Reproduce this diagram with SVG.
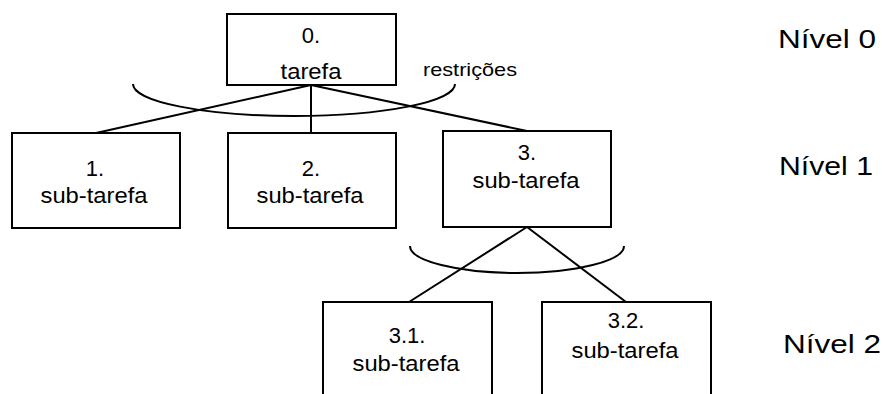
<svg xmlns="http://www.w3.org/2000/svg" width="883" height="394" viewBox="0 0 883 394">
  <style>
    .box { fill: #ffffff; stroke: #000000; stroke-width: 2; }
    .wire { fill: none; stroke: #000000; stroke-width: 2; }
    .lbl { font-family: "Liberation Sans", Arial, sans-serif; font-size: 22px; fill: #000000; text-anchor: middle; }
    .note { font-family: "Liberation Sans", Arial, sans-serif; font-size: 19px; fill: #000000; }
    .level { font-family: "Liberation Sans", Arial, sans-serif; font-size: 26px; fill: #000000; }
  </style>
  <rect width="883" height="394" fill="#ffffff"/>

  <!-- connectors and constraint arcs -->
  <g id="connectors">
    <line class="wire" x1="311" y1="85" x2="96" y2="133"/>
    <line class="wire" x1="311" y1="85" x2="311" y2="133"/>
    <line class="wire" x1="311" y1="85" x2="527" y2="131"/>
    <line class="wire" x1="527" y1="227" x2="409" y2="302"/>
    <line class="wire" x1="527" y1="227" x2="626" y2="302"/>
    <path class="wire" d="M133,84 A161,32 0 0,0 455,84"/>
    <path class="wire" d="M410,246 A107,27 0 0,0 624,246"/>
  </g>

  <g id="task-0">
    <rect class="box" x="227" y="14" width="169" height="71"/>
    <text class="lbl" x="311" y="43">0.</text>
    <text class="lbl" x="311" y="79" textLength="61" lengthAdjust="spacingAndGlyphs">tarefa</text>
  </g>

  <g id="task-1">
    <rect class="box" x="12" y="133" width="168" height="95"/>
    <text class="lbl" x="95" y="176">1.</text>
    <text class="lbl" x="94" y="203" textLength="107" lengthAdjust="spacingAndGlyphs">sub-tarefa</text>
  </g>

  <g id="task-2">
    <rect class="box" x="228" y="133" width="168" height="95"/>
    <text class="lbl" x="311" y="176">2.</text>
    <text class="lbl" x="310" y="203" textLength="107" lengthAdjust="spacingAndGlyphs">sub-tarefa</text>
  </g>

  <g id="task-3">
    <rect class="box" x="443" y="131" width="168" height="96"/>
    <text class="lbl" x="527" y="160">3.</text>
    <text class="lbl" x="526" y="188" textLength="107" lengthAdjust="spacingAndGlyphs">sub-tarefa</text>
  </g>

  <g id="task-3-1">
    <rect class="box" x="323" y="302" width="169" height="110"/>
    <text class="lbl" x="407" y="343">3.1.</text>
    <text class="lbl" x="406" y="371" textLength="107" lengthAdjust="spacingAndGlyphs">sub-tarefa</text>
  </g>

  <g id="task-3-2">
    <rect class="box" x="542" y="302" width="169" height="110"/>
    <text class="lbl" x="626" y="328">3.2.</text>
    <text class="lbl" x="625" y="358" textLength="107" lengthAdjust="spacingAndGlyphs">sub-tarefa</text>
  </g>

  <g id="constraint-label">
    <text class="note" x="423" y="76" textLength="94" lengthAdjust="spacingAndGlyphs">restrições</text>
  </g>

  <g id="levels">
    <text class="level" x="778" y="48" textLength="98" lengthAdjust="spacingAndGlyphs">Nível 0</text>
    <text class="level" x="779" y="175" textLength="94" lengthAdjust="spacingAndGlyphs">Nível 1</text>
    <text class="level" x="783" y="353" textLength="98" lengthAdjust="spacingAndGlyphs">Nível 2</text>
  </g>
</svg>
